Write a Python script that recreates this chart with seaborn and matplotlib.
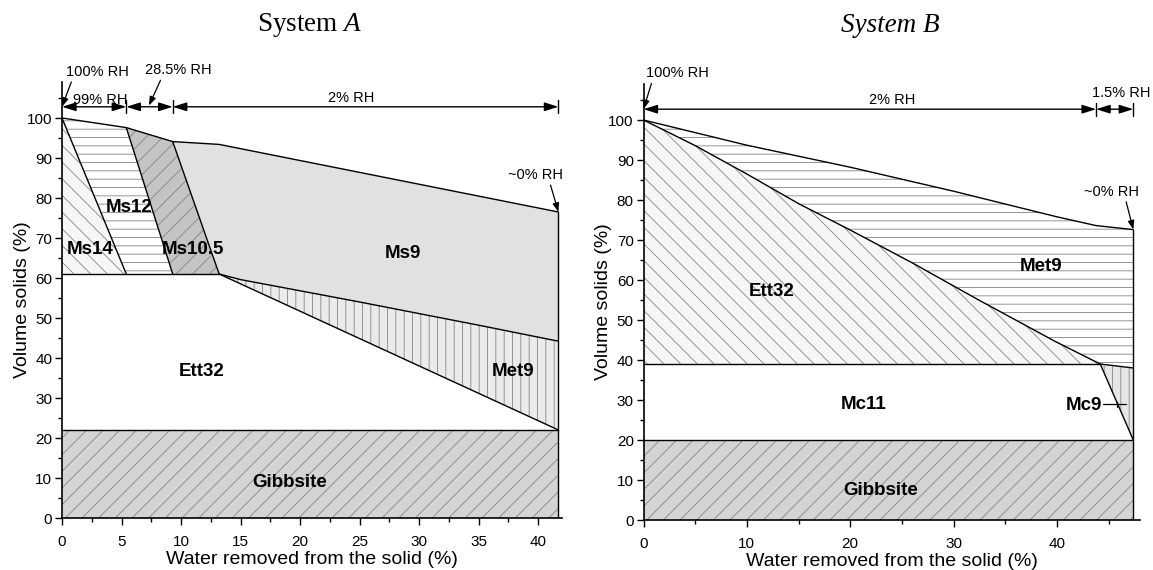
import numpy as np
import pandas as pd
import matplotlib
matplotlib.use('Agg')
import matplotlib.pyplot as plt
from matplotlib.ticker import MultipleLocator
import seaborn as sns

# ── System A boundaries (volume solids % vs water removed %) ─────
a_xmax = 41.7
a_top_x = [0, 5.4, 9.3, 13.2, 41.7]
a_top_y = [100, 97.6, 94.1, 93.4, 76.5]
a_ms_foot_x = [5.4, 9.3, 13.2]        # lower ends of Ms14|Ms12, Ms12|Ms10.5, Ms10.5|Ms9
a_ett_top = 61.0
a_met9_top_x = [13.2, 15, 25, 30, 35, 41.7]
a_met9_top_y = [61.0, 59.6, 54.0, 51.1, 48.2, 44.2]
a_gibbsite = 22.0
a_rh_edges = [0, 5.4, 9.3, 41.7]

# ── System B boundaries ──────────────────────────────────────
b_xmax = 47.4
b_top_x = [0, 10, 20, 30, 40, 43.8, 47.4]
b_top_y = [100, 93.7, 88.2, 82.2, 75.8, 73.6, 72.6]
b_ett_x = [0, 5, 10, 15, 20, 26, 32.3, 39.8, 44.2]
b_ett_y = [100, 93.6, 86.5, 79.1, 72.5, 64.3, 55.2, 44.7, 39.0]
b_ett_bottom = 39.0
b_mc9_right = 38.0
b_gibbsite = 20.0
b_rh_edges = [0, 43.8, 47.4]

sns.set_theme(style='ticks')
plt.rcParams['font.family'] = ['Liberation Sans', 'DejaVu Sans']
plt.rcParams['mathtext.fontset'] = 'custom'
plt.rcParams['mathtext.rm'] = 'Liberation Serif'
plt.rcParams['mathtext.it'] = 'Liberation Serif:italic'
plt.rcParams['hatch.linewidth'] = 0.6
for key in ['text.color', 'axes.labelcolor', 'xtick.color', 'ytick.color']:
    plt.rcParams[key] = 'black'

HATCH_COL = '#858585'
LBL = dict(fontsize=13.5, fontweight='bold', ha='center', va='center', zorder=5)
RH = dict(fontsize=10.5, ha='center', va='center')


def region(ax, xs, ys, face, hatch=None):
    ax.fill(xs, ys, facecolor=face, edgecolor=HATCH_COL if hatch else face,
            hatch=hatch, lw=0, zorder=1)


def edge(ax, xs, ys):
    sns.lineplot(x=xs, y=ys, ax=ax, sort=False, estimator=None,
                 color='black', lw=1.0, zorder=3)


def rh_bar(ax, edges, y):
    for x0, x1 in zip(edges[:-1], edges[1:]):
        ax.annotate('', xy=(x1, y), xytext=(x0, y),
                    arrowprops=dict(arrowstyle='<|-|>,head_length=0.7,head_width=0.22',
                                    color='black', lw=1, shrinkA=0, shrinkB=0),
                    annotation_clip=False)
    for x in edges[1:]:
        ax.plot([x, x], [y - 1.6, y + 1.6], color='black', lw=1, clip_on=False)


def pointer(ax, text, xy, xytext, tip):
    ax.annotate(text, xy=tip, xytext=xytext, annotation_clip=False, **RH,
                arrowprops=dict(arrowstyle='-|>,head_length=0.5,head_width=0.18',
                                color='black', lw=0.9, shrinkA=0, shrinkB=0,
                                relpos=xy))


def style_axes(ax, xmax, xmaj, xmin):
    ax.set_xlim(0, xmax)
    ax.set_ylim(0, 109)
    ax.xaxis.set_major_locator(MultipleLocator(xmaj))
    ax.xaxis.set_minor_locator(MultipleLocator(xmin))
    ax.yaxis.set_major_locator(MultipleLocator(10))
    ax.yaxis.set_minor_locator(MultipleLocator(5))
    ax.tick_params(which='major', direction='out', length=5, width=1, labelsize=11)
    ax.tick_params(axis='x', which='major', pad=7)
    ax.tick_params(axis='y', which='major', pad=2)
    ax.tick_params(which='minor', direction='out', length=3, width=1)
    ax.set_xlabel('Water removed from the solid (%)', fontsize=14, labelpad=2)
    ax.set_ylabel('Volume solids (%)', fontsize=14, labelpad=-3)
    sns.despine(ax=ax)
    for s in ['left', 'bottom']:
        ax.spines[s].set_linewidth(1.2)
        ax.spines[s].set_color('black')
    ax.set_facecolor('white')


fig = plt.figure(figsize=(11.53, 5.70), dpi=100)
axA = fig.add_axes([62 / 1153, 52 / 570, 500 / 1153, 436 / 570])
axB = fig.add_axes([643.5 / 1153, 50 / 570, 496 / 1153, 436 / 570])

# ── System A ─────────────────────────────────────────────────
ax = axA
ett, top = a_ett_top, a_top_y
region(ax, [0, a_ms_foot_x[0], 0], [top[0], ett, ett], '#f6f6f6', '\\\\')
region(ax, [a_top_x[0], a_top_x[1], a_ms_foot_x[1], a_ms_foot_x[0]],
       [top[0], top[1], ett, ett], 'white', '--')
region(ax, [a_top_x[1], a_top_x[2], a_ms_foot_x[2], a_ms_foot_x[1]],
       [top[1], top[2], ett, ett], '#c4c4c4', '//')
region(ax, a_top_x[2:] + a_met9_top_x[::-1], a_top_y[2:] + a_met9_top_y[::-1], '#e1e1e1')
region(ax, a_met9_top_x + [a_xmax], a_met9_top_y + [a_gibbsite], '#ebebeb', '||')
ax.fill_between([0, a_xmax], 0, a_gibbsite, facecolor='#d4d4d4',
                edgecolor=HATCH_COL, hatch='//', lw=0, zorder=1)

edge(ax, a_top_x, a_top_y)
for i in range(3):
    edge(ax, [a_top_x[i], a_ms_foot_x[i]], [a_top_y[i], ett])
edge(ax, [0, a_ms_foot_x[2]], [ett, ett])
edge(ax, a_met9_top_x, a_met9_top_y)
edge(ax, [a_met9_top_x[0], a_xmax], [ett, a_gibbsite])
edge(ax, [0, a_xmax], [a_gibbsite, a_gibbsite])
edge(ax, [a_xmax, a_xmax], [0, a_top_y[-1]])

ax.text(2.4, 67.2, 'Ms14', **LBL)
ax.text(5.6, 77.7, 'Ms12', **LBL)
ax.text(11.0, 67.0, 'Ms10.5', **LBL)
ax.text(28.6, 66.2, 'Ms9', **LBL)
ax.text(11.7, 36.5, 'Ett32', **LBL)
ax.text(37.9, 36.5, 'Met9', **LBL)
ax.text(19.1, 8.9, 'Gibbsite', **LBL)

rh_bar(ax, a_rh_edges, 102.8)
ax.text(3.2, 104.6, '99% RH', **RH)
ax.text(24.3, 105.0, '2% RH', **RH)
pointer(ax, '100% RH', (0.1, 0.0), (3.0, 111.6), (0, 102.8))
pointer(ax, '28.5% RH', (0.25, 0.0), (9.8, 112.0), (7.3, 103.1))
pointer(ax, '~0% RH', (0.75, 0.0), (39.8, 85.8), (a_xmax, a_top_y[-1]))
style_axes(ax, 42, 5, 2.5)

# ── System B ─────────────────────────────────────────────────
ax = axB
region(ax, b_ett_x + [0], b_ett_y + [b_ett_bottom], '#f6f6f6', '\\\\')
region(ax, b_top_x + [b_xmax] + b_ett_x[::-1],
       b_top_y + [b_mc9_right] + b_ett_y[::-1], 'white', '--')
region(ax, [b_ett_x[-1], b_xmax, b_xmax], [b_ett_bottom, b_mc9_right, b_gibbsite],
       '#e6e6e6', '||')
ax.fill_between([0, b_xmax], 0, b_gibbsite, facecolor='#d4d4d4',
                edgecolor=HATCH_COL, hatch='//', lw=0, zorder=1)

edge(ax, b_top_x, b_top_y)
edge(ax, b_ett_x, b_ett_y)
edge(ax, [0, b_ett_x[-1]], [b_ett_bottom, b_ett_bottom])
edge(ax, [b_ett_x[-1], b_xmax], [b_ett_bottom, b_mc9_right])
edge(ax, [b_ett_x[-1], b_xmax], [b_ett_bottom, b_gibbsite])
edge(ax, [0, b_xmax], [b_gibbsite, b_gibbsite])
edge(ax, [b_xmax, b_xmax], [0, b_top_y[-1]])

ax.text(12.4, 57.0, 'Ett32', **LBL)
ax.text(38.5, 63.3, 'Met9', **LBL)
ax.text(21.3, 28.8, 'Mc11', **LBL)
ax.text(22.9, 7.4, 'Gibbsite', **LBL)
ax.text(44.4, 28.6, 'Mc9', **{**LBL, 'ha': 'right'})
ax.plot([44.5, 46.7], [28.9, 28.9], color='black', lw=0.9, zorder=5)
ax.plot([45.8, 45.8], [28.3, 29.5], color='black', lw=0.9, zorder=5)

rh_bar(ax, b_rh_edges, 102.7)
ax.text(24.1, 105.0, '2% RH', **RH)
ax.text(46.2, 106.7, '1.5% RH', **RH)
pointer(ax, '100% RH', (0.1, 0.0), (3.3, 111.7), (0, 102.7))
pointer(ax, '~0% RH', (0.75, 0.0), (45.3, 82.1), (b_xmax, b_top_y[-1]))
style_axes(ax, 48, 10, 5)

fig.text(310 / 1153, 1 - 25 / 570, r'System $\mathit{A}$', fontsize=19.5,
         family='Liberation Serif', ha='center', va='center')
fig.text(890 / 1153, 1 - 25 / 570, 'System B', fontsize=19.5, family='Liberation Serif',
         style='italic', ha='center', va='center')

fig.savefig('out.png', dpi=100)
